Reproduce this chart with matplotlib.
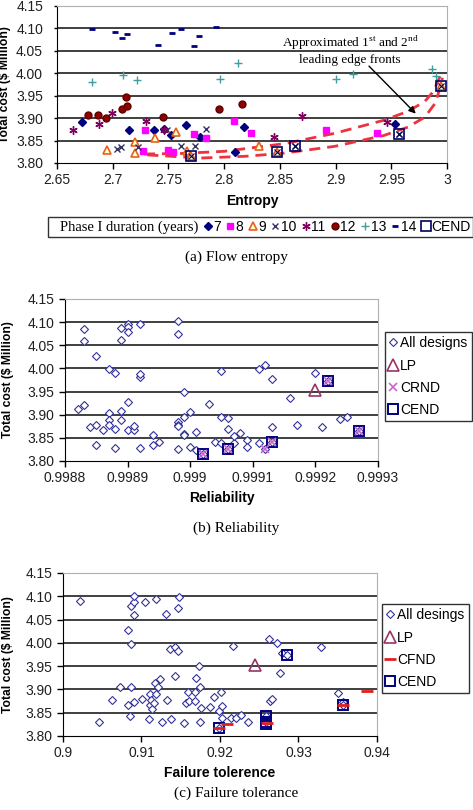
import numpy as np
import matplotlib.pyplot as plt
from matplotlib.lines import Line2D

plt.rcParams['font.family'] = ['Liberation Sans', 'DejaVu Sans']
plt.rcParams['font.size'] = 10

# ============================================================
# DATA - panel (a) flow entropy, by phase I duration
# ============================================================
x7 = [2.672, 2.715, 2.737, 2.746, 2.752, 2.766, 2.778, 2.810, 2.818, 2.953]
y7 = [3.891, 3.873, 3.873, 3.876, 3.863, 3.884, 3.858, 3.825, 3.880, 3.887]
x8 = [2.729, 2.727, 2.750, 2.754, 2.773, 2.784, 2.809, 2.824, 2.891, 2.937]
y8 = [3.874, 3.826, 3.828, 3.825, 3.864, 3.856, 3.893, 3.866, 3.873, 3.866]
x9 = [2.695, 2.720, 2.720, 2.738, 2.757, 2.767, 2.770, 2.831, 2.847, 2.995]
y9 = [3.828, 3.847, 3.822, 3.856, 3.870, 3.826, 3.815, 3.837, 3.825, 3.972]
x10 = [2.704, 2.707, 2.723, 2.749, 2.761, 2.774, 2.784, 2.864, 2.957]
y10 = [3.832, 3.835, 3.836, 3.873, 3.837, 3.837, 3.876, 3.837, 3.864]
x11 = [2.664, 2.688, 2.699, 2.730, 2.746, 2.845, 2.870, 2.946]
y11 = [3.874, 3.887, 3.911, 3.893, 3.873, 3.858, 3.905, 3.891]
x12 = [2.678, 2.687, 2.694, 2.708, 2.712, 2.713, 2.745, 2.795, 2.816]
y12 = [3.907, 3.907, 3.901, 3.921, 3.948, 3.928, 3.902, 3.921, 3.931]
x13 = [2.681, 2.709, 2.722, 2.796, 2.812, 2.900, 2.916, 2.987, 2.990]
y13 = [3.980, 3.997, 3.984, 3.988, 4.024, 3.988, 3.999, 4.009, 3.994]
x14 = [2.681, 2.702, 2.708, 2.713, 2.741, 2.753, 2.761, 2.773, 2.777, 2.793]
y14 = [4.099, 4.091, 4.078, 4.088, 4.063, 4.089, 4.099, 4.060, 4.083, 4.103]
xa_cend = [2.770, 2.847, 2.864, 2.957, 2.995]
ya_cend = [3.815, 3.825, 3.837, 3.864, 3.971]

# hand drawn leading edge fronts
front1_x = [2.728, 2.760, 2.800, 2.854, 2.899, 2.943, 2.965, 2.980, 2.988, 2.994]
front1_y = [3.820, 3.821, 3.826, 3.843, 3.866, 3.895, 3.915, 3.937, 3.960, 3.995]
front2_x = [2.731, 2.779, 2.820, 2.854, 2.899, 2.943, 2.965, 2.980, 2.990, 2.996]
front2_y = [3.818, 3.811, 3.815, 3.822, 3.837, 3.861, 3.880, 3.902, 3.935, 3.990]

# ============================================================
# DATA - panel (b) reliability
# ============================================================
xb_all = [0.99882, 0.99883, 0.99883, 0.99883, 0.99884, 0.99885, 0.99885, 0.99885,
          0.99886, 0.99887, 0.99887, 0.99887, 0.99887, 0.99888, 0.99888, 0.99888,
          0.99889, 0.99889, 0.99889, 0.99889, 0.99890, 0.99890, 0.99890, 0.99890,
          0.99890, 0.99891, 0.99891, 0.99892, 0.99892, 0.99892, 0.99892, 0.99894,
          0.99894, 0.99895, 0.99898, 0.99898, 0.99898, 0.99898, 0.99898, 0.99898,
          0.99899, 0.99899, 0.99899, 0.99899, 0.99900, 0.99900, 0.99901, 0.99901,
          0.99903, 0.99904, 0.99905, 0.99905, 0.99905, 0.99906, 0.99906, 0.99907,
          0.99907, 0.99908, 0.99909, 0.99909, 0.99911, 0.99911, 0.99912, 0.99913,
          0.99913, 0.99916, 0.99917, 0.99920, 0.99921, 0.99924, 0.99925,
          0.99902, 0.99906, 0.99912, 0.99913, 0.99922, 0.99927]
yb_all = [3.912, 4.086, 4.060, 3.922, 3.874, 3.877, 3.834, 4.026,
          3.867, 3.904, 3.888, 3.877, 3.998, 3.991, 3.869, 3.828,
          4.062, 3.888, 3.908, 4.087, 4.096, 4.089, 3.927, 4.079,
          3.867, 3.867, 3.875, 4.096, 3.982, 3.987, 3.827, 3.834,
          3.856, 3.841, 3.825, 3.885, 3.877, 3.875, 4.075, 4.102,
          3.949, 3.894, 3.858, 3.856, 3.906, 3.830, 3.863, 3.823,
          3.923, 3.840, 3.995, 3.895, 3.839, 3.869, 3.893, 3.839,
          3.854, 3.861, 3.845, 3.830, 3.999, 3.839, 4.008, 3.874,
          3.978, 3.935, 3.877, 3.991, 3.874, 3.891, 3.895,
          3.816, 3.825, 3.825, 3.841, 3.973, 3.864]
xb_lp = [0.99920]
yb_lp = [3.953]
xb_crnd = [0.99902, 0.99906, 0.99912, 0.99913, 0.99922, 0.99927]
yb_crnd = [3.816, 3.825, 3.825, 3.841, 3.973, 3.864]
xb_cend = [0.99902, 0.99906, 0.99913, 0.99922, 0.99927]
yb_cend = [3.816, 3.825, 3.841, 3.973, 3.864]

# ============================================================
# DATA - panel (c) failure tolerance
# ============================================================
xc_all = [0.9022, 0.9046, 0.9063, 0.9072, 0.9083, 0.9083, 0.9085, 0.9086, 0.9086,
          0.9086, 0.9091, 0.9091, 0.9091, 0.9090, 0.9101, 0.9105, 0.9110, 0.9111,
          0.9111, 0.9112, 0.9114, 0.9116, 0.9118, 0.9117, 0.9119, 0.9121, 0.9123,
          0.9126, 0.9131, 0.9132, 0.9136, 0.9137, 0.9143, 0.9147, 0.9143, 0.9147,
          0.9148, 0.9154, 0.9157, 0.9159, 0.9161, 0.9168, 0.9168, 0.9169, 0.9173,
          0.9174, 0.9174, 0.9176, 0.9187, 0.9193, 0.9199, 0.9201, 0.9202, 0.9203,
          0.9214, 0.9217, 0.9220, 0.9227, 0.9236, 0.9263, 0.9264, 0.9266, 0.9272,
          0.9276, 0.9279, 0.9329, 0.9350, 0.9357,
          0.9199, 0.9258, 0.9258, 0.9285, 0.9357]
yc_all = [4.090, 3.829, 3.878, 3.905, 4.027, 3.867, 3.842, 3.905, 4.080,
          3.997, 4.087, 4.101, 3.874, 4.060, 3.879, 4.087, 3.836, 3.890,
          3.867, 3.877, 3.857, 3.870, 4.095, 3.913, 3.890, 3.906, 3.922,
          3.829, 4.062, 3.877, 3.987, 3.836, 3.992, 3.983, 3.929, 4.075,
          4.098, 3.827, 3.870, 3.894, 3.876, 3.875, 3.894, 3.924, 3.951,
          3.906, 3.831, 3.859, 3.862, 3.883, 3.854, 3.895, 3.865, 3.839,
          3.839, 3.994, 3.839, 3.845, 3.831, 4.008, 3.875, 3.879, 3.999,
          3.935, 3.978, 3.991, 3.892, 3.872,
          3.818, 3.842, 3.831, 3.974, 3.867]
xc_lp = [0.9245]
yc_lp = [3.953]
xc_cfnd = [0.9199, 0.9209, 0.9260, 0.9357, 0.9387]
yc_cfnd = [3.818, 3.826, 3.827, 3.867, 3.897]
xc_cend = [0.9199, 0.9258, 0.9258, 0.9258, 0.9285, 0.9357]
yc_cend = [3.818, 3.842, 3.831, 3.826, 3.974, 3.867]

yticks = [3.80, 3.85, 3.90, 3.95, 4.00, 4.05, 4.10, 4.15]
ytick_labels = ["3.80", "3.85", "3.90", "3.95", "4.00", "4.05", "4.10", "4.15"]


def style_axes(ax, label_x):
    ax.set_ylim(3.80, 4.15)
    ax.set_yticks(yticks)
    ax.set_yticklabels(ytick_labels)
    for y in yticks[1:-1]:
        ax.axhline(y, color="#303030", linewidth=1.3, zorder=1)
    ax.spines["top"].set_color("#b0b0b0")
    ax.spines["right"].set_color("#b0b0b0")
    ax.spines["left"].set_color("black")
    ax.spines["bottom"].set_color("black")
    ax.tick_params(axis="both", direction="out", length=4, width=1,
                   labelsize=10, colors="black", labelcolor="#202020")
    ax.set_ylabel("Total cost ($ Million)", fontweight="bold", fontsize=8.7)
    ax.yaxis.set_label_coords(label_x, 0.5)


fig = plt.figure(figsize=(4.73, 8.1), dpi=100)

# ============================================================
# PANEL (a)
# ============================================================
ax1 = fig.add_axes([0.1205, 0.7988, 0.8245, 0.1938])
style_axes(ax1, -0.117)
ax1.tick_params(axis="y", pad=8, length=2)
ax1.set_xlim(2.65, 3.0)
ax1.set_xticks([2.65, 2.7, 2.75, 2.8, 2.85, 2.9, 2.95, 3.0])
ax1.set_xticklabels(["2.65", "2.7", "2.75", "2.8", "2.85", "2.9", "2.95", "3"])
ax1.set_xlabel("Entropy", fontweight="bold", fontsize=10, labelpad=5)

ax1.plot(front1_x, front1_y, color="#ee3340", lw=2, dashes=(4, 2.5), zorder=2)
ax1.plot(front2_x, front2_y, color="#ee3340", lw=2, dashes=(4, 2.5), zorder=2)

h7, = ax1.plot(x7, y7, "D", ms=4, color="#000080", ls="none", zorder=3)
h8, = ax1.plot(x8, y8, "s", ms=5, color="#ff00ff", ls="none", zorder=3)
h9, = ax1.plot(x9, y9, "^", ms=6, mfc="#ffffd0", mec="#e8601c", mew=1.2, ls="none", zorder=3)
h10, = ax1.plot(x10, y10, "x", ms=5, color="#333366", mew=1, ls="none", zorder=3)
h11, = ax1.plot(x11, y11, marker=(6, 2, 0), ms=6, color="#800060", mew=1, ls="none", zorder=3)
h12, = ax1.plot(x12, y12, "o", ms=5, mfc="#900000", mec="#600000", ls="none", zorder=3)
h13, = ax1.plot(x13, y13, "+", ms=6, color="#3f9f9f", mew=1, ls="none", zorder=3)
h14, = ax1.plot(x14, y14, "_", ms=4, color="#000080", mew=2, ls="none", zorder=3)
hc, = ax1.plot(xa_cend, ya_cend, "s", ms=7, mfc="none", mec="#000060", mew=1.2, ls="none", zorder=4)
ax1.plot(xa_cend, ya_cend, "x", ms=4, color="#000060", mew=0.8, ls="none", zorder=4)

ax1.text(2.913, 4.052, "Approximated 1$^{\\mathregular{st}}$ and 2$^{\\mathregular{nd}}$\nleading edge fronts",
         fontsize=9.5, family="Liberation Serif", ha="center", va="center")
ax1.annotate("", xy=(2.972, 3.910), xytext=(2.930, 4.016),
             arrowprops=dict(arrowstyle="-|>", color="black", lw=1, shrinkA=0, shrinkB=0))

blank = Line2D([], [], ls="none", marker="none")
leg = fig.legend([blank, h7, h8, h9, h10, h11, h12, h13, h14, hc],
                 ["Phase I duration (years)", "7", "8", "9", "10", "11", "12", "13", "14", "CEND"],
                 loc="center", bbox_to_anchor=(0.551, 1 - 227 / 810), ncol=10,
                 frameon=True, fancybox=False, edgecolor="black", fontsize=10,
                 handlelength=0.5, handletextpad=0.15, columnspacing=0.42,
                 borderpad=0.2, borderaxespad=0)
leg.get_frame().set_linewidth(1)
leg.get_texts()[0].set_fontfamily("Liberation Serif")
leg.get_texts()[0].set_fontsize(10.5)

fig.text(0.5, 1 - 257 / 810, "(a) Flow entropy", ha="center", va="center",
         family="Liberation Serif", fontsize=11)

# ============================================================
# PANEL (b)
# ============================================================
ax2 = fig.add_axes([0.1374, 0.4309, 0.6617, 0.2])
style_axes(ax2, -0.163)
ax2.set_xlim(0.9988, 0.9993)
ax2.set_xticks([0.9988, 0.9989, 0.9990, 0.9991, 0.9992, 0.9993])
ax2.set_xticklabels(["0.9988", "0.9989", "0.999", "0.9991", "0.9992", "0.9993"])
ax2.set_xlabel("Reliability", fontweight="bold", fontsize=10, labelpad=4)

b1, = ax2.plot(xb_all, yb_all, "D", ms=4.5, mfc="white", mec="#333399", mew=0.8, ls="none", zorder=3)
b2, = ax2.plot(xb_lp, yb_lp, "^", ms=8, mfc="none", mec="#993366", mew=1.2, ls="none", zorder=4)
b3, = ax2.plot(xb_crnd, yb_crnd, "x", ms=6, color="#cc66cc", mew=1.2, ls="none", zorder=5)
b4, = ax2.plot(xb_cend, yb_cend, "s", ms=7, mfc="none", mec="#000080", mew=1.4, ls="none", zorder=4)

leg2 = fig.legend([b1, b2, b3, b4], ["All designs", "LP", "CRND", "CEND"],
                  loc="upper left", bbox_to_anchor=(385 / 473, 1 - 332 / 810),
                  frameon=True, fancybox=False, edgecolor="black", fontsize=10,
                  handlelength=0.6, handletextpad=0.2, borderpad=0.3,
                  labelspacing=0.6, borderaxespad=0)

fig.text(0.5, 1 - 528 / 810, "(b) Reliability", ha="center", va="center",
         family="Liberation Serif", fontsize=11)

# ============================================================
# PANEL (c)
# ============================================================
ax3 = fig.add_axes([0.1332, 0.0914, 0.6638, 0.2012])
style_axes(ax3, -0.156)
ax3.set_xlim(0.9, 0.94)
ax3.set_xticks([0.9, 0.91, 0.92, 0.93, 0.94])
ax3.set_xticklabels(["0.9", "0.91", "0.92", "0.93", "0.94"])
ax3.set_xlabel("Failure tolerence", fontweight="bold", fontsize=10, labelpad=4)

c1, = ax3.plot(xc_all, yc_all, "D", ms=4.5, mfc="white", mec="#333399", mew=0.8, ls="none", zorder=3)
c2, = ax3.plot(xc_lp, yc_lp, "^", ms=8, mfc="none", mec="#993366", mew=1.2, ls="none", zorder=4)
c4, = ax3.plot(xc_cend, yc_cend, "s", ms=7, mfc="none", mec="#000080", mew=1.4, ls="none", zorder=4)
c3, = ax3.plot(xc_cfnd, yc_cfnd, "_", ms=8, color="#e02020", mew=2, ls="none", zorder=5)

leg3 = fig.legend([c1, c2, c3, c4], ["All desings", "LP", "CFND", "CEND"],
                  loc="upper left", bbox_to_anchor=(382 / 473, 1 - 604 / 810),
                  frameon=True, fancybox=False, edgecolor="black", fontsize=10,
                  handlelength=0.6, handletextpad=0.2, borderpad=0.3,
                  labelspacing=0.6, borderaxespad=0)

fig.text(0.5, 1 - 793 / 810, "(c) Failure tolerance", ha="center", va="center",
         family="Liberation Serif", fontsize=11)

fig.savefig("out.png", dpi=100)
